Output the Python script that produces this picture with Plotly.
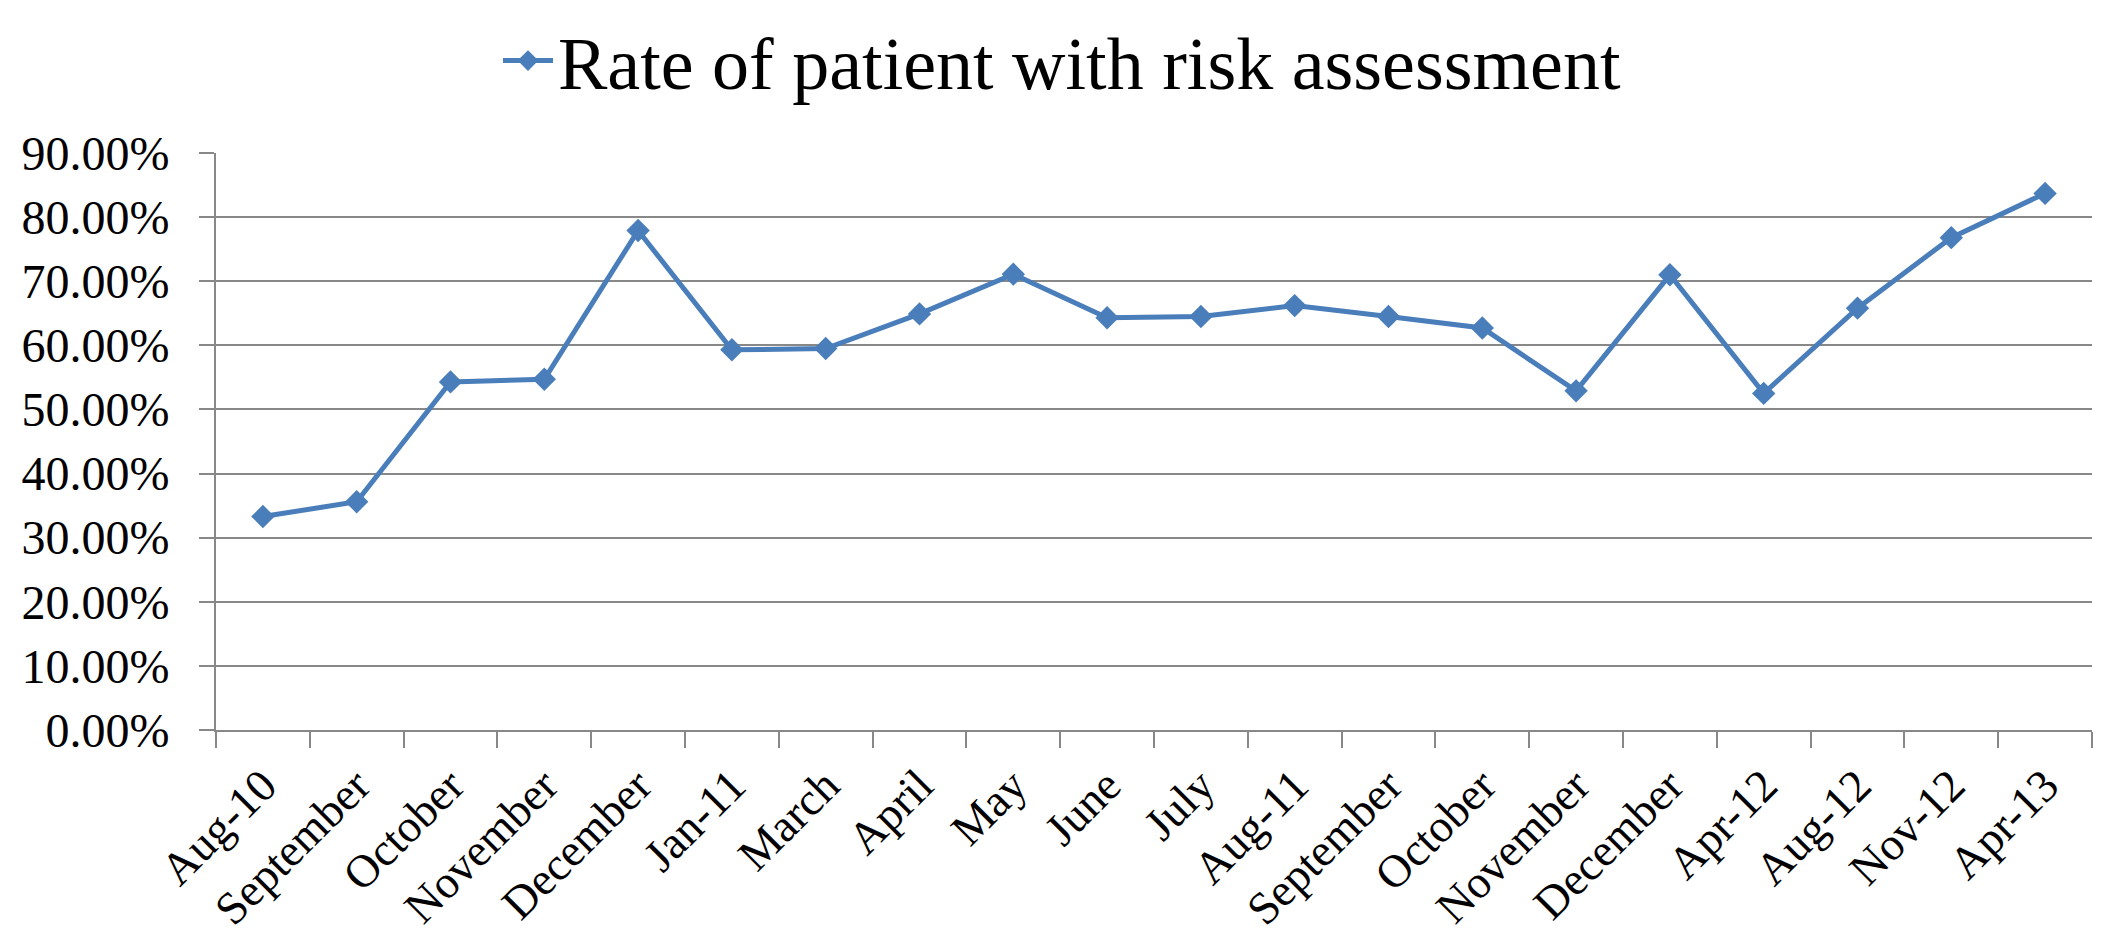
import plotly.graph_objects as go

categories = ["Aug-10", "September", "October", "November", "December", "Jan-11",
              "March", "April", "May", "June", "July", "Aug-11", "September",
              "October", "November", "December", "Apr-12", "Aug-12", "Nov-12", "Apr-13"]
rates = [0.333, 0.356, 0.543, 0.547, 0.779, 0.593, 0.595, 0.649, 0.711, 0.643,
         0.645, 0.662, 0.645, 0.627, 0.529, 0.710, 0.525, 0.658, 0.768, 0.837]
series_name = "Rate of patient with risk assessment"
y_ticks = [0, 0.1, 0.2, 0.3, 0.4, 0.5, 0.6, 0.7, 0.8, 0.9]

pos = list(range(len(categories)))
boundaries = [i - 0.5 for i in range(len(categories) + 1)]

BLUE = "#4a7ebb"
GRID = "#888888"
FONT = "Liberation Serif"

# page body has an 8px margin, so the figure is sized to fit the window
W, H = 2108, 924

fig = go.Figure()
fig.add_trace(go.Scatter(
    x=pos, y=rates, name=series_name, mode="lines+markers",
    line=dict(color=BLUE, width=5),
    marker=dict(symbol="diamond", size=18, color=BLUE),
    showlegend=True,
))
# invisible trace bound to the label axis
fig.add_trace(go.Scatter(x=pos, y=rates, xaxis="x2", mode="lines",
                         line=dict(color="rgba(0,0,0,0)"), showlegend=False,
                         hoverinfo="skip"))

fig.update_layout(
    width=W, height=H,
    margin=dict(l=208, r=24, t=145, b=202, autoexpand=False),
    paper_bgcolor="white", plot_bgcolor="white",
    font=dict(family=FONT, color="black", size=46),
    showlegend=True,
    legend=dict(orientation="h", xref="container", yref="container",
                x=0.5, xanchor="center", y=1 - 53 / H, yanchor="middle",
                font=dict(size=74, family=FONT), itemwidth=50,
                bgcolor="rgba(0,0,0,0)"),
    xaxis=dict(range=[-0.5, len(categories) - 0.5], tickvals=boundaries,
               showticklabels=False, ticks="outside", ticklen=16, tickwidth=2,
               tickcolor=GRID, showline=True, linecolor=GRID, linewidth=2,
               showgrid=False, zeroline=False, fixedrange=True, automargin=False),
    xaxis2=dict(range=[-0.5, len(categories) - 0.5], overlaying="x", side="bottom",
                anchor="y", tickvals=pos, ticktext=categories, tickangle=-45,
                ticks="outside", ticklen=9, tickcolor="rgba(0,0,0,0)",
                showline=False, showgrid=False, zeroline=False, automargin=False,
                tickfont=dict(size=46, family=FONT)),
    yaxis=dict(range=[0, 0.9], tickvals=y_ticks, tickformat=".2%",
               ticks="outside", ticklen=15, tickwidth=2, tickcolor=GRID,
               showline=True, linecolor=GRID, linewidth=2,
               showgrid=True, gridcolor=GRID, gridwidth=2, zeroline=False,
               automargin=False,
               ticklabelstandoff=20, tickfont=dict(size=48, family=FONT)),
)

fig.write_html("out.html")
